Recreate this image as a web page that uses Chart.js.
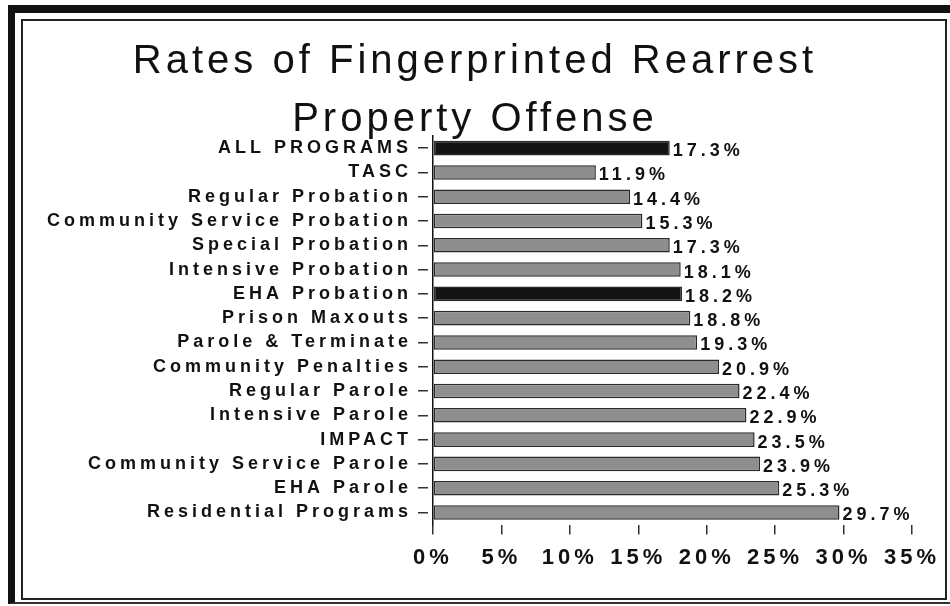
<!DOCTYPE html>
<html>
<head>
<meta charset="utf-8">
<script src="https://cdn.jsdelivr.net/npm/chart.js@4/dist/chart.umd.min.js"></script>
<style>
  html, body { margin: 0; padding: 0; background: #fff; }
  #wrap { position: relative; width: 950px; height: 606px; overflow: hidden; }
  #chart { position: absolute; left: 0; top: 0; }
  .frame { position: absolute; pointer-events: none; box-sizing: border-box; }
  #outer { left: 8px; top: 5px; width: 942px; height: 599px;
           border-left: 7px solid #111; border-top: 8px solid #111; border-bottom: 2px solid #333; }
  #inner { left: 21px; top: 19px; width: 926px; height: 581px; border: 2px solid #222; }
</style>
</head>
<body>
<div id="wrap">
  <canvas id="chart" width="950" height="606"></canvas>
  <div class="frame" id="outer"></div>
  <div class="frame" id="inner"></div>
</div>
<script>
document.addEventListener('DOMContentLoaded', function() {

    // -- data -- //
    const titleLines = ['Rates of Fingerprinted Rearrest', 'Property Offense'];
    const programs = [
        'ALL PROGRAMS', 'TASC', 'Regular Probation', 'Community Service Probation',
        'Special Probation', 'Intensive Probation', 'EHA Probation', 'Prison Maxouts',
        'Parole & Terminate', 'Community Penalties', 'Regular Parole', 'Intensive Parole',
        'IMPACT', 'Community Service Parole', 'EHA Parole', 'Residential Programs'
    ];
    const rearrestRates = [17.3, 11.9, 14.4, 15.3, 17.3, 18.1, 18.2, 18.8, 19.3, 20.9, 22.4, 22.9, 23.5, 23.9, 25.3, 29.7];
    const xTicks = [0, 5, 10, 15, 20, 25, 30, 35];

    // dark bars for the overall figure and EHA Probation, grey for the rest
    const darkBars = ['ALL PROGRAMS', 'EHA Probation'];
    const barColors = programs.map(p => darkBars.includes(p) ? '#141414' : '#8e8e8e');

    const fontFamily = "'Liberation Sans', Arial, sans-serif";

    // the scan is wide and letter-spaced; canvas letterSpacing gets reset on resize
    const spacing = {
        id: 'spacing',
        beforeUpdate(chart) { chart.ctx.letterSpacing = '4px'; },
        beforeDraw(chart) { chart.ctx.letterSpacing = '4px'; }
    };

    // value labels to the right of each bar
    const valueLabels = {
        id: 'valueLabels',
        afterDatasetsDraw(chart) {
            const ctx = chart.ctx;
            const meta = chart.getDatasetMeta(0);
            ctx.save();
            ctx.font = 'bold 18px ' + fontFamily;
            ctx.fillStyle = '#111';
            ctx.textAlign = 'left';
            ctx.textBaseline = 'middle';
            meta.data.forEach((bar, i) => {
                ctx.fillText(rearrestRates[i].toFixed(1) + '%', bar.x + 3, bar.y + 3);
            });
            ctx.restore();
        }
    };

    new Chart(document.getElementById('chart'), {
        type: 'bar',
        data: {
            labels: programs,
            datasets: [{
                data: rearrestRates,
                backgroundColor: barColors,
                borderColor: '#2a2a2a',
                borderWidth: 1.5,
                borderSkipped: false,
                barPercentage: 0.6,
                categoryPercentage: 1
            }]
        },
        options: {
            indexAxis: 'y',
            responsive: false,
            devicePixelRatio: 1,
            animation: false,
            layout: { padding: { left: 38, right: 38, top: 0, bottom: 25 } },
            plugins: {
                legend: { display: false },
                tooltip: { enabled: false },
                title: {
                    display: true,
                    text: titleLines,
                    color: '#111',
                    font: { family: fontFamily, size: 40, weight: 'normal', lineHeight: 1.45 },
                    padding: { top: 33, bottom: -13 }
                }
            },
            scales: {
                x: {
                    type: 'linear',
                    min: 0,
                    max: 35,
                    afterBuildTicks(scale) {
                        scale.ticks = xTicks.map(v => ({ value: v }));
                    },
                    ticks: {
                        callback: v => v + '%',
                        color: '#111',
                        padding: 10,
                        maxRotation: 0,
                        autoSkip: false,
                        font: { family: fontFamily, size: 22, weight: 'bold' }
                    },
                    grid: {
                        drawOnChartArea: false,
                        drawTicks: true,
                        tickLength: 10,
                        color: '#333',
                        lineWidth: 1.5
                    },
                    border: { display: false }
                },
                y: {
                    type: 'category',
                    afterFit(scale) { scale.width = 433 - 38; },
                    ticks: {
                        color: '#111',
                        padding: 6,
                        autoSkip: false,
                        font: { family: fontFamily, size: 18, weight: 'bold' }
                    },
                    grid: {
                        offset: false,
                        drawOnChartArea: false,
                        drawTicks: true,
                        tickLength: 15,
                        tickBorderDash: [10, 5],
                        color: '#333',
                        lineWidth: 1.5
                    },
                    border: { display: true, color: '#111', width: 1.5 }
                }
            }
        },
        plugins: [spacing, valueLabels]
    });
});
</script>
</body>
</html>
